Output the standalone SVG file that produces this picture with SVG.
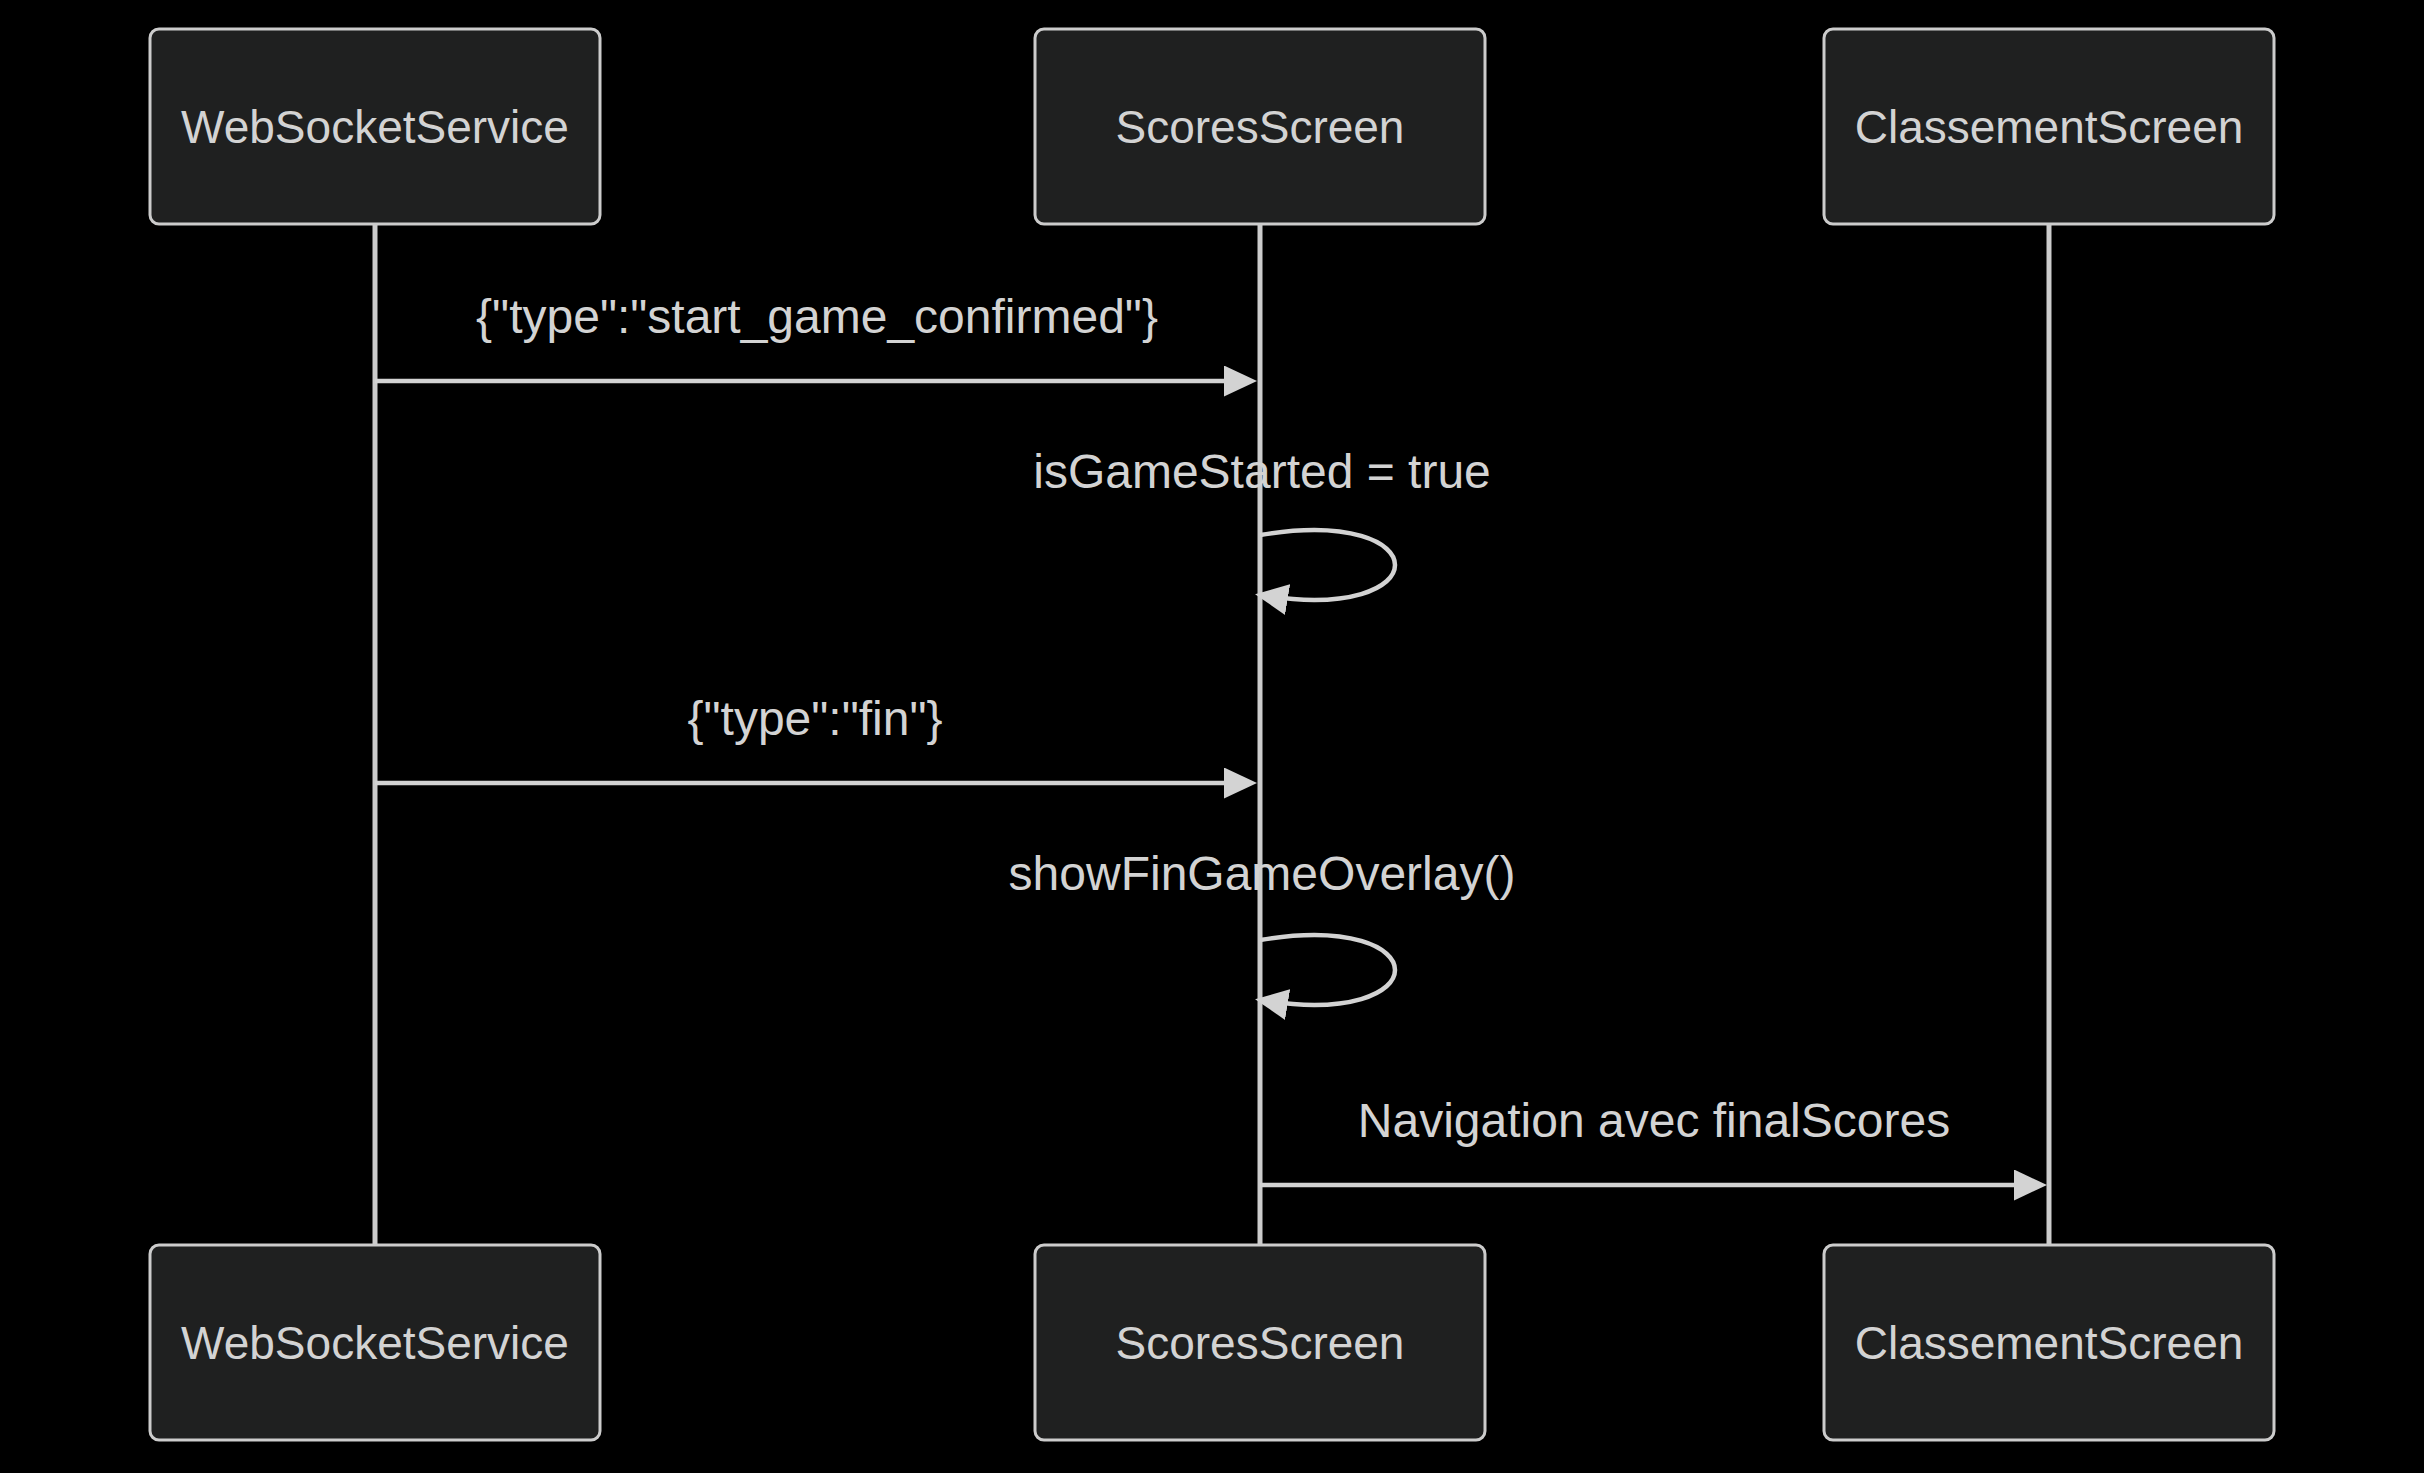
<svg xmlns="http://www.w3.org/2000/svg" width="2424" height="1473" viewBox="0 0 2424 1473">
<style>
.bg{fill:#000000}
.actor rect{fill:#1f2020;stroke:#cccccc;stroke-width:3}
.actor text{fill:#d3d3d3;font-family:"Liberation Sans",Arial,sans-serif;font-size:46px;text-anchor:middle;dominant-baseline:central}
.life{stroke:#cccccc;stroke-width:5;fill:none}
.msg{stroke:#d3d3d3;stroke-width:4.5;fill:none}
.lbl{fill:#d3d3d3;font-family:"Liberation Sans",Arial,sans-serif;font-size:48px;text-anchor:middle}
</style>
<defs>
<marker id="arrow" markerUnits="userSpaceOnUse" viewBox="0 0 33 31" markerWidth="33" markerHeight="31" refX="16" refY="15.5" orient="auto">
<path d="M0,0 L33,15.5 L0,31 Z" fill="#d3d3d3"/>
</marker>
<marker id="arrowLoop" markerUnits="userSpaceOnUse" viewBox="0 0 33 31" markerWidth="33" markerHeight="31" refX="28" refY="15.5" orient="auto">
<path d="M0,0 L33,15.5 L0,31 Z" fill="#d3d3d3"/>
</marker>
</defs>
<rect class="bg" x="0" y="0" width="2424" height="1473"/>
<g id="lifelines">
<line class="life" x1="375" y1="224" x2="375" y2="1245"/>
<line class="life" x1="1260" y1="224" x2="1260" y2="1245"/>
<line class="life" x1="2049" y1="224" x2="2049" y2="1245"/>
</g>
<g id="actor-websocket-top" class="actor">
<rect x="150" y="29" width="450" height="195" rx="9"/>
<text x="375" y="127">WebSocketService</text>
</g>
<g id="actor-scores-top" class="actor">
<rect x="1035" y="29" width="450" height="195" rx="9"/>
<text x="1260" y="127">ScoresScreen</text>
</g>
<g id="actor-classement-top" class="actor">
<rect x="1824" y="29" width="450" height="195" rx="9"/>
<text x="2049" y="127">ClassementScreen</text>
</g>
<g id="actor-websocket-bottom" class="actor">
<rect x="150" y="1245" width="450" height="195" rx="9"/>
<text x="375" y="1343">WebSocketService</text>
</g>
<g id="actor-scores-bottom" class="actor">
<rect x="1035" y="1245" width="450" height="195" rx="9"/>
<text x="1260" y="1343">ScoresScreen</text>
</g>
<g id="actor-classement-bottom" class="actor">
<rect x="1824" y="1245" width="450" height="195" rx="9"/>
<text x="2049" y="1343">ClassementScreen</text>
</g>
<g id="connectors">
<line class="msg" x1="375" y1="381" x2="1240" y2="381" marker-end="url(#arrow)"/>
<path class="msg" d="M1260,535 C1440,505 1440,625 1260,595" marker-end="url(#arrowLoop)"/>
<line class="msg" x1="375" y1="783" x2="1240" y2="783" marker-end="url(#arrow)"/>
<path class="msg" d="M1260,940 C1440,910 1440,1030 1260,1000" marker-end="url(#arrowLoop)"/>
<line class="msg" x1="1260" y1="1185" x2="2030" y2="1185" marker-end="url(#arrow)"/>
</g>
<g id="labels">
<text class="lbl" x="817" y="333">{"type":"start_game_confirmed"}</text>
<text class="lbl" x="1262" y="488">isGameStarted = true</text>
<text class="lbl" x="815" y="735">{"type":"fin"}</text>
<text class="lbl" x="1262" y="890">showFinGameOverlay()</text>
<text class="lbl" x="1654" y="1137">Navigation avec finalScores</text>
</g>
</svg>
